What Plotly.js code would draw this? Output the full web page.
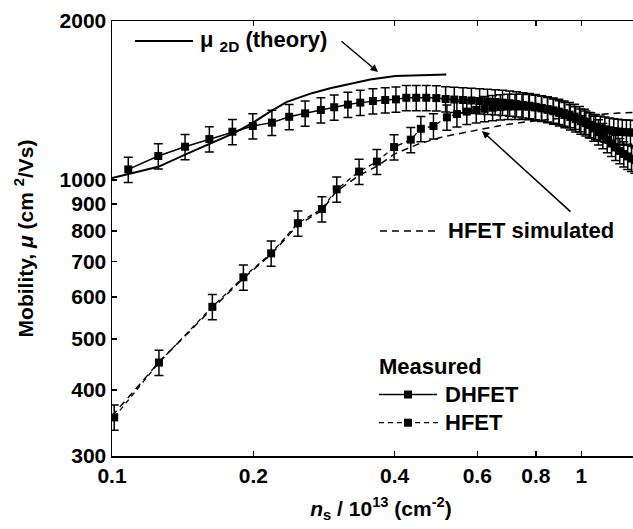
<!DOCTYPE html>
<html>
<head>
<meta charset="utf-8">
<script src="https://cdn.plot.ly/plotly-3.0.1.min.js"></script>
<style>
html,body{margin:0;padding:0;overflow:hidden;background:#fff;}
#chart{width:650px;height:529px;}
</style>
</head>
<body>
<div id="chart"></div>
<script>
// Theory mu_2D curve
const theoryX = [0.1, 0.1255, 0.1443, 0.1814, 0.1986, 0.2172, 0.2358, 0.2666, 0.2916, 0.3269, 0.3549, 0.4013, 0.4537, 0.5155];
const theoryY = [1008, 1059, 1120, 1225, 1280, 1347, 1406, 1460, 1491, 1524, 1549, 1574, 1580, 1583];

// HFET simulated curve
const simX = [0.1, 0.126, 0.164, 0.19, 0.218, 0.249, 0.28, 0.30, 0.336, 0.367, 0.40, 0.45, 0.509, 0.599, 0.683, 0.766, 0.9, 1.05, 1.2, 1.4];
const simY = [357, 452, 572, 650, 722, 822, 875, 950, 1020, 1062, 1120, 1170, 1208, 1243, 1271, 1289, 1310, 1327, 1339, 1345];

// Measured DHFET
const dhfetX = [0.1083, 0.1255, 0.1431, 0.1612, 0.1805, 0.1995, 0.2191, 0.2385, 0.2579, 0.2786, 0.2974, 0.3181, 0.338, 0.3596, 0.382, 0.4026, 0.4236, 0.4448, 0.4672, 0.4908, 0.5137, 0.536, 0.5593,
  0.583, 0.607, 0.631, 0.655, 0.679, 0.703, 0.727, 0.751, 0.775, 0.799, 0.823, 0.847, 0.871, 0.895, 0.919, 0.943, 0.967, 0.991, 1.015, 1.039, 1.063, 1.087, 1.111, 1.135, 1.159, 1.183, 1.207, 1.231, 1.255, 1.279, 1.30];
const dhfetY = [1047, 1110, 1156, 1195, 1234, 1265, 1284, 1317, 1337, 1357, 1373, 1389, 1401, 1411, 1417, 1421, 1431, 1431, 1431, 1429, 1423, 1420, 1417,
  1414, 1411, 1408, 1405, 1401, 1397, 1392, 1387, 1382, 1376, 1369, 1362, 1355, 1347, 1338, 1329, 1318, 1305, 1290, 1272, 1252, 1232, 1212, 1192, 1172, 1152, 1135, 1120, 1108, 1098, 1090];

// Measured HFET
const hfetX = [0.1011, 0.1259, 0.1636, 0.1905, 0.2183, 0.2489, 0.28, 0.3011, 0.336, 0.3667, 0.399, 0.433, 0.455, 0.484, 0.517, 0.543, 0.57, 0.597,
  0.622, 0.647, 0.672, 0.697, 0.722, 0.747, 0.772, 0.797, 0.822, 0.847, 0.872, 0.897, 0.922, 0.947, 0.972, 0.997, 1.022, 1.047, 1.072, 1.097, 1.122, 1.147, 1.172, 1.197, 1.222, 1.247, 1.272, 1.297];
const hfetY = [355, 451, 575, 654, 726, 828, 881, 960, 1037, 1083, 1154, 1192, 1250, 1265, 1314, 1333, 1347, 1357,
  1364, 1370, 1374, 1377, 1378, 1378, 1376, 1372, 1366, 1358, 1349, 1339, 1328, 1316, 1304, 1292, 1281, 1270, 1261, 1253, 1247, 1242, 1238, 1235, 1233, 1231, 1230, 1229];

const errPercent = 5.5;

const yTickVals = [300, 400, 500, 600, 700, 800, 900, 1000, 2000];
const yTickText = ['300', '400', '500', '600', '700', '800', '900', '1000', '2000'];
const xTickVals = [0.1, 0.2, 0.4, 0.6, 0.8, 1];
const xTickText = ['0.1', '0.2', '0.4', '0.6', '0.8', '1'];

const legendTitle = 'Measured';
const legendNames = ['DHFET', 'HFET'];

const FONT = 'Liberation Sans, Arial, sans-serif';
const BF = (s) => ({size: s, family: FONT, color: '#000', weight: 'bold'});

const traces = [
  {x: theoryX, y: theoryY, mode: 'lines', line: {color: '#000', width: 2}, showlegend: false, hoverinfo: 'skip'},
  {x: simX, y: simY, mode: 'lines', line: {color: '#000', width: 1.5, dash: '7px,5px'}, showlegend: false, hoverinfo: 'skip'},
  {x: hfetX, y: hfetY, name: legendNames[1], mode: 'lines+markers', showlegend: false,
   line: {color: '#000', width: 1.3, dash: '5px,4px'},
   marker: {symbol: 'square', size: 8, color: '#000'},
   error_y: {type: 'percent', value: errPercent, color: '#000', thickness: 1.5, width: 4.5}},
  {x: dhfetX, y: dhfetY, name: legendNames[0], mode: 'lines+markers', showlegend: false,
   line: {color: '#000', width: 1.5},
   marker: {symbol: 'square', size: 8, color: '#000'},
   error_y: {type: 'percent', value: errPercent, color: '#000', thickness: 1.5, width: 4.5}}
];

// paper-coordinate helpers for the plot area (112..650 x, 21..456 y)
const px = (p) => (p - 112) / 538;
const py = (p) => (456 - p) / 435;

const mk = (cx, cy) => ({type: 'rect', xref: 'paper', yref: 'paper', xsizemode: 'pixel', ysizemode: 'pixel',
  xanchor: px(cx), yanchor: py(cy), x0: -4, x1: 4, y0: -4, y1: 4, fillcolor: '#000', line: {width: 0}});

const layout = {
  width: 650, height: 529,
  margin: {l: 112, r: 0, t: 21, b: 73},
  paper_bgcolor: '#fff', plot_bgcolor: '#fff',
  font: BF(20),
  showlegend: false,
  xaxis: {type: 'log', range: [-1, Math.log10(1.4)], tickvals: xTickVals, ticktext: xTickText,
    ticks: 'inside', ticklen: 5, tickwidth: 1.5, tickcolor: '#000', showline: true, linecolor: '#000', linewidth: 1.5,
    mirror: 'ticks', showgrid: false, zeroline: false, tickfont: BF(21),
    title: {text: '<i>n</i><sub>s</sub> / 10<sup>13</sup> (cm<sup>-2</sup>)', font: BF(21), standoff: 15}},
  yaxis: {type: 'log', range: [Math.log10(300), Math.log10(2000)], tickvals: yTickVals, ticktext: yTickText,
    ticks: 'inside', ticklen: 5, tickwidth: 1.5, tickcolor: '#000', showline: true, linecolor: '#000', linewidth: 1.5,
    mirror: 'ticks', showgrid: false, zeroline: false, tickfont: BF(21),
    title: {text: 'Mobility, <i>μ</i> (cm <sup>2</sup>/Vs)', font: BF(21), standoff: 20}},
  shapes: [
    {type: 'line', xref: 'paper', yref: 'paper', x0: px(135), x1: px(193), y0: py(41), y1: py(41), line: {color: '#000', width: 2}},
    {type: 'line', xref: 'paper', yref: 'paper', x0: px(380), x1: px(438), y0: py(231), y1: py(231), line: {color: '#000', width: 1.5, dash: '7px,5px'}},
    {type: 'line', xref: 'paper', yref: 'paper', x0: px(379), x1: px(437), y0: py(394.5), y1: py(394.5), line: {color: '#000', width: 1.5}},
    {type: 'line', xref: 'paper', yref: 'paper', x0: px(379), x1: px(439), y0: py(422.7), y1: py(422.7), line: {color: '#000', width: 1.3, dash: '5px,4px'}},
    mk(408, 394.5), mk(408, 422.7)
  ],
  annotations: [
    {xref: 'paper', yref: 'paper', x: px(198), y: py(41), xanchor: 'left', yanchor: 'middle', showarrow: false,
     text: 'μ <sub>2D</sub> (theory)', font: BF(22)},
    {xref: 'paper', yref: 'paper', x: px(378), y: py(72), ax: -38, ay: -32, text: '', showarrow: true,
     arrowhead: 2, arrowsize: 1, arrowwidth: 1.5, arrowcolor: '#000'},
    {xref: 'paper', yref: 'paper', x: px(446), y: py(231), xanchor: 'left', yanchor: 'middle', showarrow: false,
     text: 'HFET simulated', font: BF(22)},
    {xref: 'paper', yref: 'paper', x: px(482), y: py(131), ax: 90, ay: 82, text: '', showarrow: true,
     arrowhead: 2, arrowsize: 1, arrowwidth: 1.5, arrowcolor: '#000'},
    {xref: 'paper', yref: 'paper', x: px(377), y: py(366), xanchor: 'left', yanchor: 'middle', showarrow: false,
     text: legendTitle, font: BF(22)},
    {xref: 'paper', yref: 'paper', x: px(443), y: py(394.5), xanchor: 'left', yanchor: 'middle', showarrow: false,
     text: legendNames[0], font: BF(22)},
    {xref: 'paper', yref: 'paper', x: px(443), y: py(422.7), xanchor: 'left', yanchor: 'middle', showarrow: false,
     text: legendNames[1], font: BF(22)}
  ]
};

Plotly.newPlot('chart', traces, layout, {displayModeBar: false, staticPlot: true});
</script>
</body>
</html>
